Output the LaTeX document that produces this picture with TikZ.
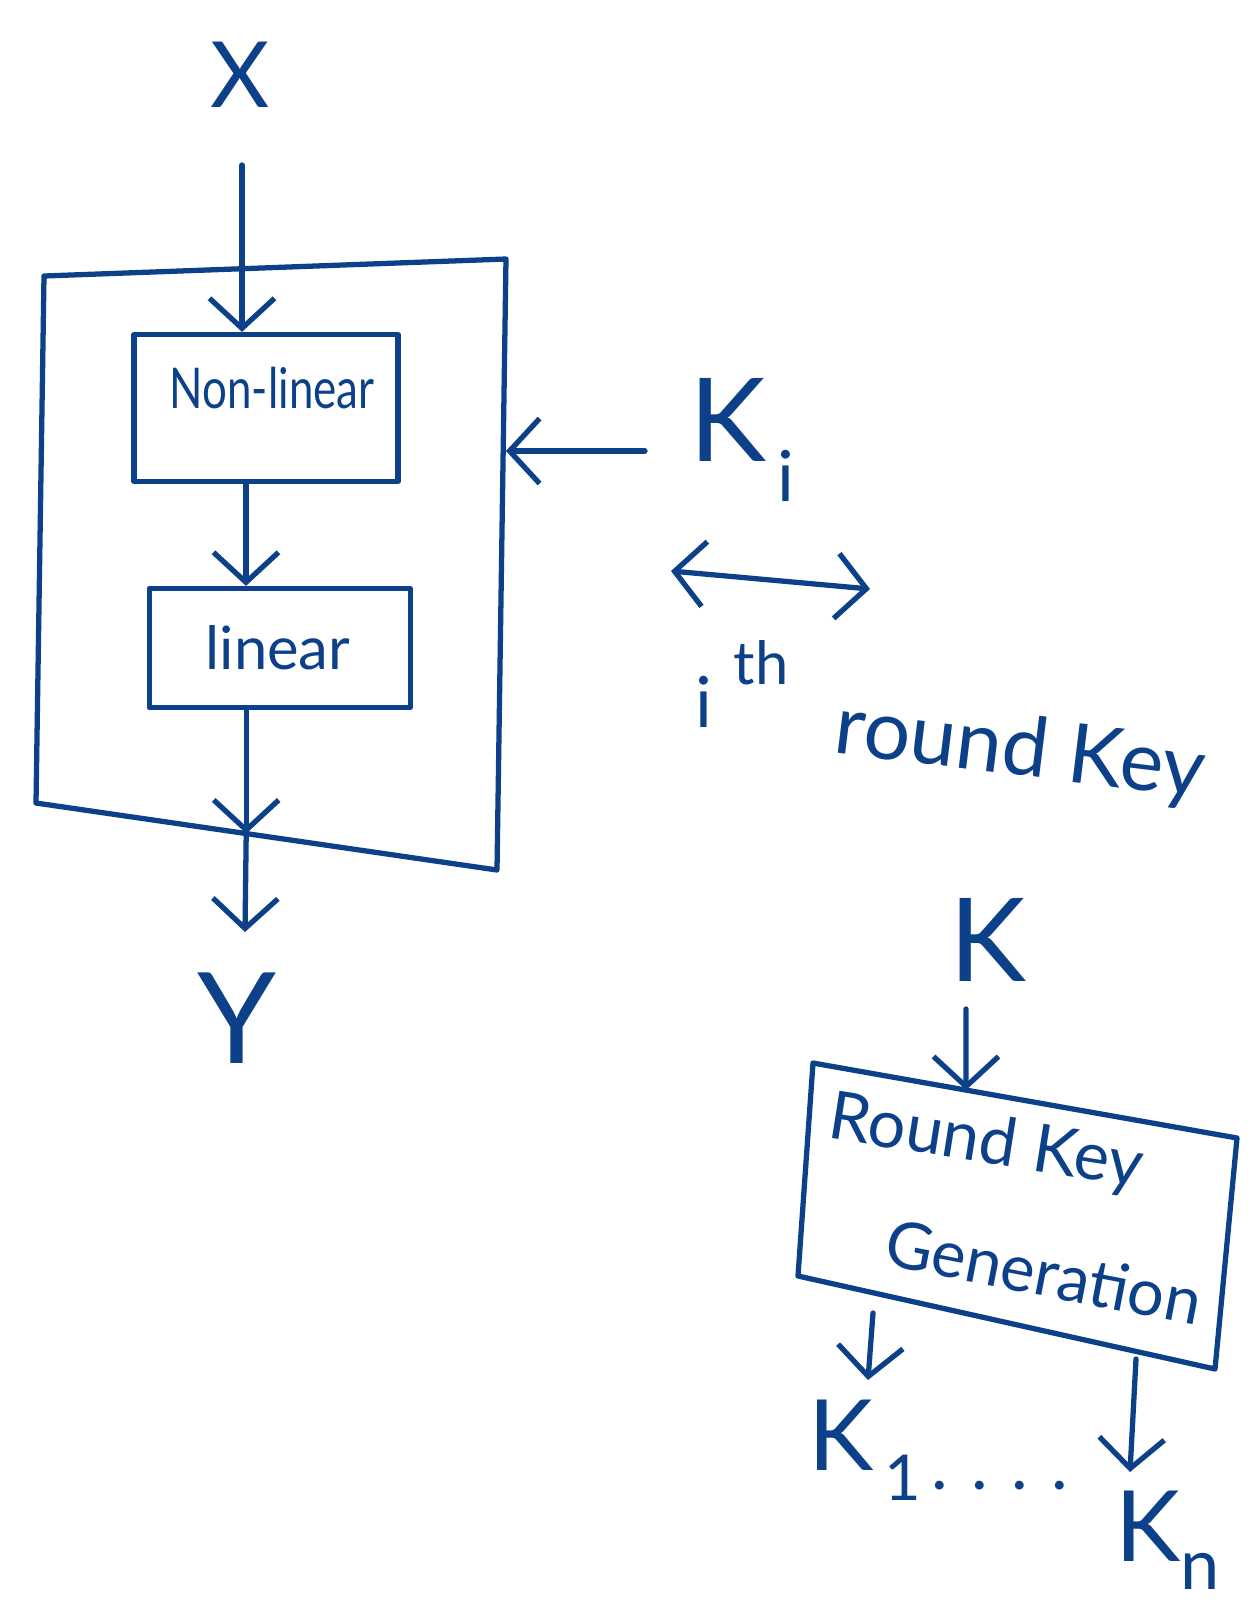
\documentclass[tikz,border=0pt]{standalone}
\usepackage{fontspec}
\setmainfont{Lato}
\usetikzlibrary{arrows.meta,calc}
\definecolor{ink}{RGB}{12,64,136}
\begin{document}
\begin{tikzpicture}[x=0.02cm,y=-0.02cm,
  pen/.style={draw=ink,line width=3pt,line cap=round,line join=round},
  barb/.tip={Straight Barb[length=0.6cm,width=1.3cm]},
  flow/.style={pen,-barb},
  both/.style={pen,barb-barb},
  box/.style={pen,rectangle,inner sep=0pt},
  lbl/.style={text=ink,inner sep=0pt,anchor=center},
  big/.style={lbl,font=\fontsize{56}{60}\selectfont},
  mid/.style={lbl,font=\fontsize{40}{44}\selectfont},
  small/.style={lbl,font=\fontsize{32}{36}\selectfont}]
\useasboundingbox (0,0) rectangle (1256,1614);

% ---- round function ----
\node[big,font=\fontsize{52}{56}\selectfont] (x) at (240,75) {X};
\coordinate (xin) at (242,165);

% outer block of the round
\coordinate (TL) at (44,276);
\coordinate (TR) at (506,259);
\coordinate (BR) at (497,870);
\coordinate (BL) at (36,803);
\draw[pen] (TL) -- (TR) -- (BR) -- (BL) -- cycle;

% inner layers
\node[box,minimum width=5.28cm,minimum height=2.94cm] (nl) at (266,408) {};
\node[small,xscale=0.78] (nltext) at (272,388) {Non-linear};
\node[box,minimum width=5.22cm,minimum height=2.38cm] (lin) at (280,648) {};
\node[small,font=\fontsize{34}{38}\selectfont] (lintext) at (278,648) {linear};

\draw[flow] (xin) -- (xin |- nl.north);
\coordinate (mid1) at (246,0);
\draw[flow] (nl.south -| mid1) -- (lin.north -| mid1);
\coordinate (ob) at ($(BL)!0.456!(BR)$);
\draw[flow] (lin.south -| ob) -- (ob);
\coordinate (yout) at (245,932);
\draw[flow] (ob) -- (yout);
\node[big,font=\fontsize{72}{76}\selectfont] (y) at (237,1018) {Y};

% round key input
\node[big,font=\fontsize{66}{70}\selectfont] (ki) at (742,440) {K\raisebox{-0.35em}{\fontsize{40}{44}\selectfont\,i}};
\coordinate (kin) at (645,451);
\draw[flow] (kin) -- (kin -| TR);

% equivalence between the two parts
\coordinate (da1) at (671,571);
\coordinate (da2) at (870,589);
\draw[both] (da1) -- (da2);
\node[mid] (ith) at (742,684) {i\hspace{0.3em}\raisebox{0.6em}{\fontsize{34}{38}\selectfont th}};
\node[mid,font=\fontsize{47}{50}\selectfont,rotate=-7] (rk) at (1020,752) {round Key};

% ---- key schedule ----
\node[big,font=\fontsize{66}{70}\selectfont] (k) at (988,940) {K};
\coordinate (kdown) at (966,1009);
\coordinate (G1) at (813,1063);
\coordinate (G2) at (1237,1138);
\coordinate (G3) at (1215,1369);
\coordinate (G4) at (798,1276);
\draw[pen] (G1) -- (G2) -- (G3) -- (G4) -- cycle;
\coordinate (gin) at ($(G1)!0.361!(G2)$);
\draw[flow] (kdown) -- (gin);
\node[mid,font=\fontsize{38}{42}\selectfont,rotate=-9] (rkg1) at (986,1144) {Round Key};
\node[mid,font=\fontsize{37}{42}\selectfont,rotate=-11] (rkg2) at (1044,1272) {Generation};

\coordinate (o1) at (873,1313);
\coordinate (o1e) at (868,1380);
\draw[flow] (o1) -- (o1e);
\coordinate (o2) at (1136,1359);
\coordinate (o2e) at (1130,1472);
\draw[flow] (o2) -- (o2e);
\node[big,font=\fontsize{56}{60}\selectfont] (k1) at (865,1450) {K\raisebox{-0.3em}{\fontsize{36}{40}\selectfont\,1}};
\node[mid] (dots) at (1000,1486) {.\,\,.\,\,.\,\,.};
\node[big,font=\fontsize{56}{60}\selectfont] (kn) at (1168,1540) {K\raisebox{-0.28em}{\fontsize{40}{44}\selectfont n}};
\end{tikzpicture}
\end{document}
